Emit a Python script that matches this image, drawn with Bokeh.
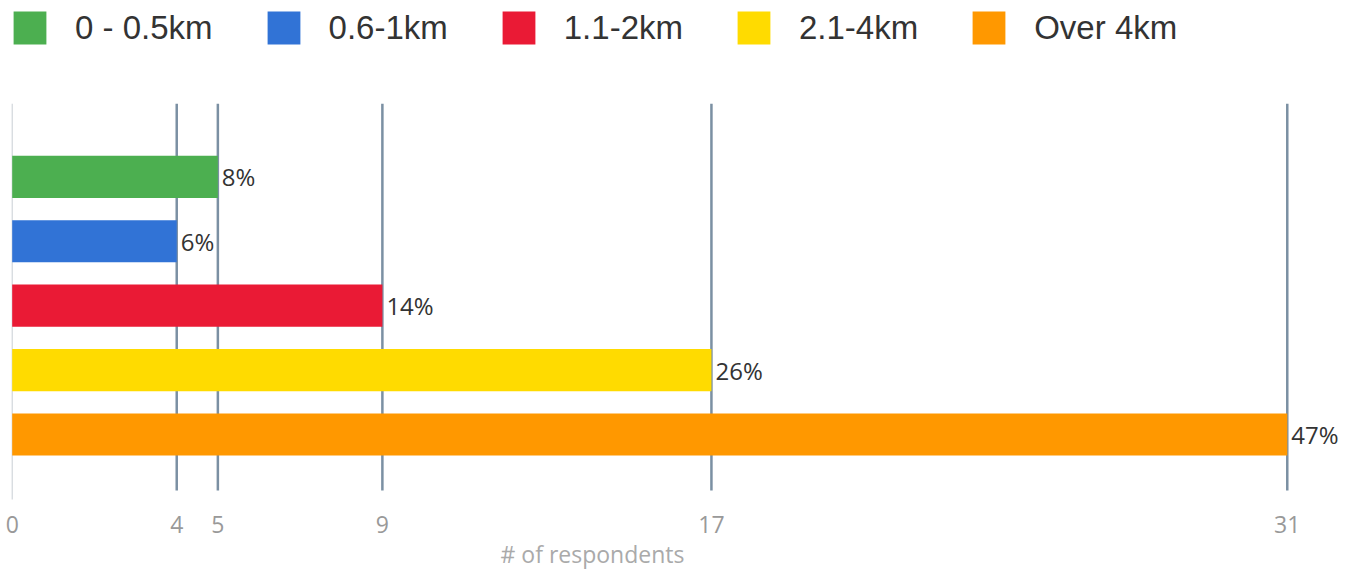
from bokeh.plotting import figure
from bokeh.models import (ColumnDataSource, Range1d, FixedTicker, Legend, LegendItem, Title)
from bokeh.core.properties import value
from bokeh.embed import file_html
from bokeh.resources import INLINE

# ---- data ----
categories = ["0 - 0.5km", "0.6-1km", "1.1-2km", "2.1-4km", "Over 4km"]
counts = [5, 4, 9, 17, 31]
pct_labels = ["8%", "6%", "14%", "26%", "47%"]
colors = ["#4CAF50", "#3173D6", "#EA1A35", "#FFDB00", "#FF9800"]
tick_values = [0, 4, 5, 9, 17, 31]
axis_title = "# of respondents"

W, H = 1346, 569
p = figure(width=W, height=H, output_backend="svg", toolbar_location=None,
           x_range=Range1d(-0.09, 32.44), y_range=Range1d(5.01, -2.615),
           y_axis_location=None, min_border_left=8, min_border_right=0,
           min_border_top=8, min_border_bottom=0)
p.outline_line_color = None
p.grid.visible = False
p.background_fill_color = "white"

pos = list(range(len(categories)))
src = ColumnDataSource(dict(y=pos, right=counts, cat=categories, color=colors,
                            pct=pct_labels))

# grid lines (behind bars)
grid_vals = [v for v in tick_values if v != 0]
p.segment(x0=grid_vals, x1=grid_vals, y0=[-1.136] * len(grid_vals), y1=[4.87] * len(grid_vals),
          line_color="#7B90A3", line_width=2.5)
p.segment(x0=[0], x1=[0], y0=[-1.136], y1=[5.1], line_color="#C8CED4", line_width=1)

bars = p.hbar(y="y", left=0, right="right", height=0.654, fill_color="color",
              line_color=None, source=src)

p.text(x="right", y="y", text="pct", source=src, x_offset=4,
       text_font=value("Open Sans"), text_font_size="24px", text_color="#333333",
       text_baseline="middle", text_align="left")

# legend
items = [LegendItem(label=c, renderers=[bars], index=i) for i, c in enumerate(categories)]
leg = Legend(items=items, orientation="horizontal", location=(1, 451),
             glyph_width=41, glyph_height=41, label_height=41, label_standoff=25,
             spacing=50, padding=0, margin=0, border_line_alpha=0,
             background_fill_alpha=0, label_text_font="Liberation Sans",
             label_text_font_size="33px", label_text_color="#333333")
p.add_layout(leg, "center")

# x axis
ax = p.xaxis[0]
ax.ticker = FixedTicker(ticks=tick_values)
ax.axis_line_color = None
ax.major_tick_line_color = None
ax.minor_tick_line_color = None
ax.major_label_standoff = 10
ax.major_label_text_font = "Open Sans"
ax.major_label_text_font_size = "23px"
ax.major_label_text_color = "#999999"

t = Title(text=axis_title, align="left", offset=492, text_font="Open Sans",
          text_font_size="23px", text_font_style="normal", text_color="#AAAAAA",
          standoff=0)
p.add_layout(t, "below")

open("out.html", "w").write(file_html(p, INLINE))
